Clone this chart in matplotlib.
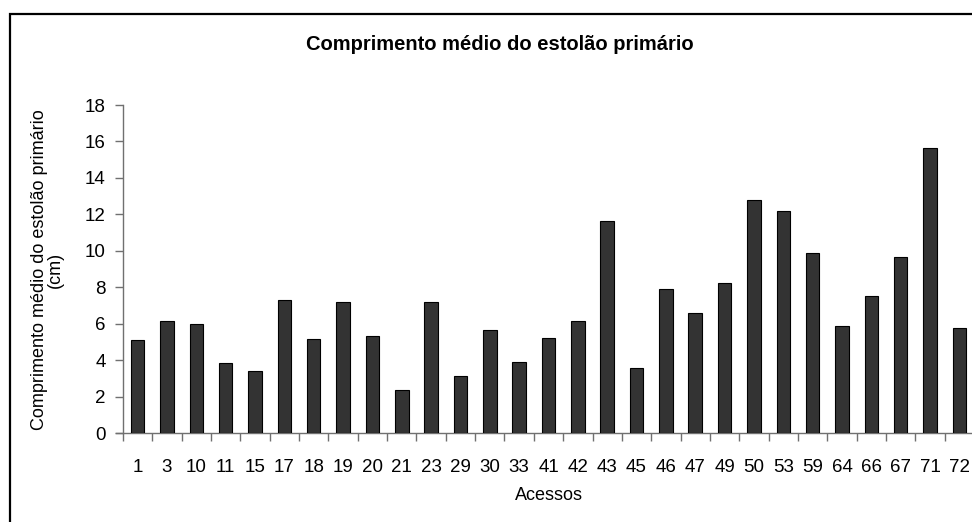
import matplotlib
matplotlib.use("Agg")
import matplotlib.pyplot as plt
from matplotlib.patches import Rectangle
import numpy as np

plt.rcParams['font.family'] = ['Liberation Sans', 'DejaVu Sans']

acessos = ["1", "3", "10", "11", "15", "17", "18", "19", "20", "21", "23", "29", "30", "33",
           "41", "42", "43", "45", "46", "47", "49", "50", "53", "59", "64", "66", "67", "71", "72"]
comprimento = [5.08, 6.15, 6.0, 3.83, 3.38, 7.32, 5.15, 7.17, 5.3, 2.37, 7.17, 3.15, 5.63, 3.92,
               5.24, 6.16, 11.66, 3.55, 7.92, 6.56, 8.23, 12.8, 12.2, 9.87, 5.86, 7.5, 9.65, 15.65, 5.77]
yticks = [0, 2, 4, 6, 8, 10, 12, 14, 16, 18]

fig = plt.figure(figsize=(9.72, 5.22), dpi=100)
fig.patch.set_facecolor('white')

# outer border (chart area frame)
fig.patches.append(Rectangle((10/972, -0.05), 1.1, 1 - 14/522 + 0.05,
                             transform=fig.transFigure, fill=False,
                             edgecolor='black', linewidth=1.6, zorder=0))

ax = fig.add_axes([123/972, 1 - 433/522, (974 - 123)/972, (433 - 105)/522])
x = np.arange(len(acessos))
ax.bar(x, comprimento, width=0.46, color='#333333', edgecolor='black', linewidth=0.8, zorder=3)

ax.set_xlim(-0.5, len(acessos) - 0.5)
ax.set_ylim(0, 18)
ax.set_yticks(yticks)
ax.set_yticklabels([str(v) for v in yticks], fontsize=13.5)
ax.set_xticks(x)
ax.set_xticklabels(acessos, fontsize=13.5)
ax.set_xticks(np.arange(len(acessos) + 1) - 0.5, minor=True)
ax.tick_params(axis='x', which='major', length=0, pad=19)
ax.tick_params(axis='x', which='minor', length=6, color='#707070', width=1, direction='out')
ax.tick_params(axis='y', length=6, color='#707070', width=1, direction='out', pad=6.5)

for s in ['top', 'right']:
    ax.spines[s].set_visible(False)
for s in ['left', 'bottom']:
    ax.spines[s].set_color('#707070')
    ax.spines[s].set_linewidth(1)
ax.spines['bottom'].set_bounds(-0.5 - 0.25, len(acessos) - 0.5)

ax.set_xlabel("Acessos", fontsize=13, labelpad=8)
ax.set_ylabel("Comprimento médio do estolão primário\n(cm)", fontsize=13, linespacing=0.95,
              ha='center', va='center')
ax.yaxis.set_label_coords((47.5 - 123) / 851, 0.497)

fig.text(500 / 972, 1 - 50.5 / 522, "Comprimento médio do estolão primário", ha='center',
         va='baseline', fontsize=14.5, fontweight='bold')

fig.savefig("out.png", dpi=100, facecolor='white')
